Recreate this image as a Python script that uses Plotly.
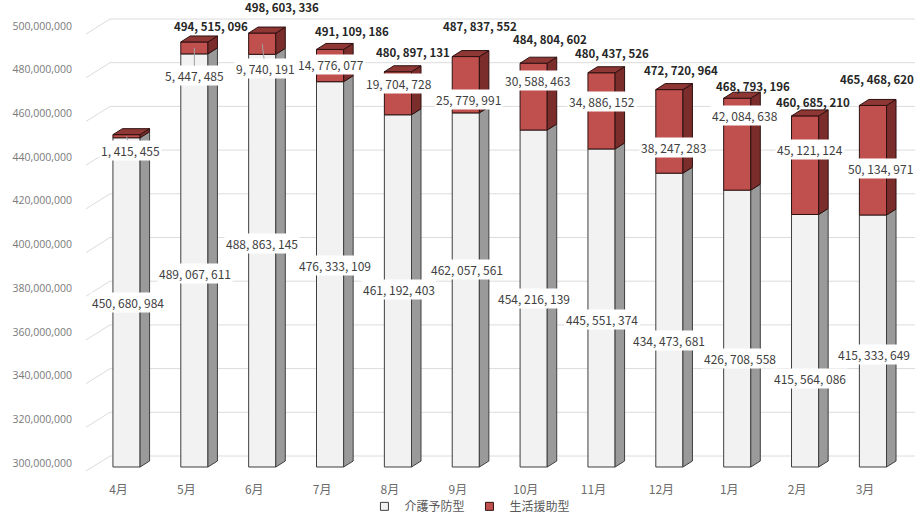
import plotly.graph_objects as go

# ---- data -----------------------------------------------------------------
months = ["4月", "5月", "6月", "7月", "8月", "9月", "10月", "11月", "12月", "1月", "2月", "3月"]
kaigo_yobo = [450680984, 489067611, 488863145, 476333109, 461192403, 462057561,
              454216139, 445551374, 434473681, 426708558, 415564086, 415333649]
seikatsu_enjo = [1415455, 5447485, 9740191, 14776077, 19704728, 25779991,
                 30588463, 34886152, 38247283, 42084638, 45121124, 50134971]
y_ticks = [300000000, 320000000, 340000000, 360000000, 380000000, 400000000,
           420000000, 440000000, 460000000, 480000000, 500000000]

# label nudges in pixels (dx right, dy down); None = label not shown
white_nudge = [(1, 0), (1, 13), (0, -17), (5, -9), (1, -1), (1, -20),
               (0, 0), (0, 12), (0, 20), (3, 30), (5, 38), (1, 13)]
red_nudge = [(4, 14), (0, 28), (3, 25), (1, -1), (1, -10), (3, 15),
             (4, -16), (0, -9), (4, 16), (8, -29), (5, -16), (8, 8)]
total_nudge = [None, (17, -16), (20, -26), (22, -18), (15, -20), (14, -31),
               (16, -24), (10, -20), (12, -20), (16, -12), (8, -14), (4, -26)]

totals = [a + b for a, b in zip(kaigo_yobo, seikatsu_enjo)]
idx = list(range(len(months)))

# ---- geometry -------------------------------------------------------------
W, H = 915, 518
M_L, M_B = 80, 43
PLOT_H = H - M_B
CAT_PX = 67.86           # pixels per category
FIRST_PX = 126.5         # pixel x of the first bar centre
Y_BASE = 300000000
PX_PER_UNIT = 437 / 200000000
BASE_PX = 467            # pixel y of the bar floor (front plane)


def dxu(p):
    return p / CAT_PX


def dyu(p):
    return p / PX_PER_UNIT


x_range = [(M_L - FIRST_PX) / CAT_PX, (W - FIRST_PX) / CAT_PX]
y_range = [Y_BASE - dyu(PLOT_H - BASE_PX), Y_BASE + dyu(BASE_PX)]

HALF = 0.2               # half bar width (category units)
D_X = dxu(9.5)           # depth offset of the 3-D faces
D_Y = dyu(6)

WHITE, WHITE_SIDE, WHITE_EDGE = "#f2f2f2", "#9a9a9a", "#3f3f3f"
RED, RED_SIDE, RED_TOP, RED_EDGE = "#c0504d", "#7a2d2b", "#8e3734", "#2e1010"
GRID = "#dcdcdc"
FONT = "Noto Sans CJK JP"


def fmt(v):
    return f"{v:,}".replace(",", ", ")


fig = go.Figure()

# front faces
fig.add_trace(go.Bar(
    x=idx, y=[v - Y_BASE for v in kaigo_yobo], base=Y_BASE, width=2 * HALF,
    marker=dict(color=WHITE, line=dict(color=WHITE_EDGE, width=1)),
    showlegend=False, hoverinfo="skip"))
fig.add_trace(go.Bar(
    x=idx, y=seikatsu_enjo, base=kaigo_yobo, width=2 * HALF,
    marker=dict(color=RED, line=dict(color=RED_EDGE, width=1)),
    showlegend=False, hoverinfo="skip"))


def polys(builder):
    xs, ys = [], []
    for i in idx:
        px, py = builder(i)
        xs += px + [px[0], None]
        ys += py + [py[0], None]
    return xs, ys


def white_side(i):
    r = i + HALF
    w = kaigo_yobo[i]
    return [r, r + D_X, r + D_X, r], [Y_BASE, Y_BASE + D_Y, w + D_Y, w]


def red_side(i):
    r = i + HALF
    w, t = kaigo_yobo[i], totals[i]
    return [r, r + D_X, r + D_X, r], [w, w + D_Y, t + D_Y, t]


def red_top(i):
    l, r = i - HALF, i + HALF
    t = totals[i]
    return [l, r, r + D_X, l + D_X], [t, t, t + D_Y, t + D_Y]


for builder, fill, edge in [(white_side, WHITE_SIDE, WHITE_EDGE),
                            (red_side, RED_SIDE, RED_EDGE),
                            (red_top, RED_TOP, RED_EDGE)]:
    xs, ys = polys(builder)
    fig.add_trace(go.Scatter(x=xs, y=ys, mode="lines", fill="toself",
                             fillcolor=fill, line=dict(color=edge, width=1),
                             showlegend=False, hoverinfo="skip"))

# legend entries
fig.add_trace(go.Scatter(x=[None], y=[None], mode="markers", name="介護予防型",
                         marker=dict(symbol="square", size=8, color=WHITE,
                                     line=dict(color=WHITE_EDGE, width=1))))
fig.add_trace(go.Scatter(x=[None], y=[None], mode="markers", name="生活援助型",
                         marker=dict(symbol="square", size=8, color=RED,
                                     line=dict(color=RED_EDGE, width=1))))

# back wall and side wall gridlines
shapes = []
x_side0, x_wall = dxu(86 - FIRST_PX), dxu(110 - FIRST_PX)
for v in y_ticks:
    yb = v + dyu(11)
    shapes.append(dict(type="line", xref="x", yref="y", layer="below",
                       x0=x_side0, y0=v - dyu(4), x1=x_wall, y1=yb,
                       line=dict(color=GRID, width=1)))
    shapes.append(dict(type="line", xref="x", yref="y", layer="below",
                       x0=x_wall, y0=yb, x1=x_range[1], y1=yb,
                       line=dict(color=GRID, width=1)))

# data labels
ann = []
label_font = dict(family=FONT, size=12, color="#404040")
for i in idx:
    w, r, t = kaigo_yobo[i], seikatsu_enjo[i], totals[i]
    dx, dy = white_nudge[i]
    ann.append(dict(x=i, y=Y_BASE + (w - Y_BASE) / 2, text=fmt(w), showarrow=False,
                    xshift=dx, yshift=-dy, bgcolor="white", borderpad=1,
                    font=label_font))
    dx, dy = red_nudge[i]
    seg_half_px = r * PX_PER_UNIT / 2
    if abs(dy) > seg_half_px + 4:
        ann.append(dict(x=i, y=w + r / 2, text=fmt(r), showarrow=True,
                        arrowhead=0, arrowwidth=1, arrowcolor="#a0a0a0",
                        ax=dx, ay=dy, bgcolor="white", borderpad=1,
                        font=label_font))
    else:
        ann.append(dict(x=i, y=w + r / 2, text=fmt(r), showarrow=False,
                        xshift=dx, yshift=-dy, bgcolor="white", borderpad=1,
                        font=label_font))
    if total_nudge[i] is not None:
        dx, dy = total_nudge[i]
        ann.append(dict(x=i, y=t, text="<b>" + fmt(t) + "</b>", showarrow=False,
                        xshift=dx, yshift=-dy,
                        font=dict(family=FONT, size=11.5, color="#262626")))

fig.update_layout(
    width=W, height=H, autosize=False,
    margin=dict(l=M_L, r=0, t=0, b=M_B, pad=0, autoexpand=False),
    paper_bgcolor="white", plot_bgcolor="white",
    barmode="overlay",
    font=dict(family=FONT),
    shapes=shapes, annotations=ann,
    xaxis=dict(range=x_range, tickvals=idx, ticktext=months, showgrid=False,
               zeroline=False, showline=False, ticks="",
               ticklabelshift=-8, ticklabelstandoff=6,
               tickfont=dict(family=FONT, size=12, color="#6b6b6b")),
    yaxis=dict(range=y_range, tickvals=y_ticks, tickformat=",d", showgrid=False,
               zeroline=False, showline=False, ticks="",
               ticklabelshift=-4, ticklabelstandoff=7,
               tickfont=dict(family="Open Sans", size=10.5, color="#7a7a7a")),
    legend=dict(orientation="h", x=0.467, xanchor="center", y=-0.066,
                yanchor="middle", font=dict(family=FONT, size=12, color="#595959"),
                bgcolor="rgba(0,0,0,0)", itemclick=False),
)

fig.write_html("out.html")
